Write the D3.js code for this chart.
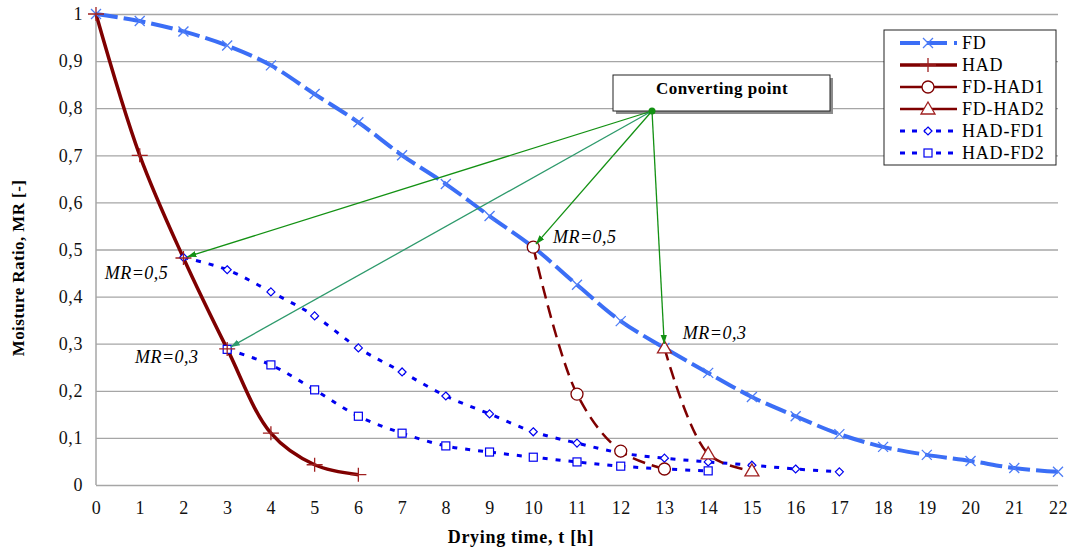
<!DOCTYPE html>
<html>
<head>
<meta charset="utf-8">
<script src="https://cdn.jsdelivr.net/npm/d3@7.9.0/dist/d3.min.js"></script>
<style>
  body { margin: 0; background: #fff; }
  svg text { font-family: "Liberation Serif", "Times New Roman", serif !important; }
</style>
</head>
<body>
<svg id="chart" width="1073" height="552"></svg>
<script>
// values
const fdTime = d3.range(0, 23);
const fdMR = [1, 0.985, 0.963, 0.933, 0.891, 0.830, 0.770, 0.700, 0.639, 0.571, 0.505,
  0.425, 0.348, 0.291, 0.238, 0.187, 0.146, 0.108, 0.081, 0.064, 0.051, 0.036, 0.028];
const hadTime = [0, 1, 2, 3, 4, 5, 6];
const hadMR = [1, 0.70, 0.482, 0.289, 0.110, 0.043, 0.022];
const fdHad1Time = [10, 11, 12, 13];
const fdHad1MR = [0.505, 0.193, 0.072, 0.034];
const fdHad2Time = [13, 14, 15];
const fdHad2MR = [0.291, 0.066, 0.030];
const hadFd1Time = d3.range(2, 18);
const hadFd1MR = [0.483, 0.457, 0.410, 0.359, 0.291, 0.240, 0.189, 0.151, 0.113, 0.089,
  0.068, 0.057, 0.049, 0.042, 0.034, 0.028];
const hadFd2Time = d3.range(3, 15);
const hadFd2MR = [0.288, 0.255, 0.202, 0.146, 0.110, 0.083, 0.070, 0.059, 0.049, 0.040, 0.034, 0.030];

const xTicks = d3.range(0, 23);
const yTicks = d3.range(0, 11).map(d => d / 10);

// converting point arrows go to these [t, MR] points
const convertTargets = [[2, 0.482, "#139113"], [3, 0.289, "#2e9a6c"], [10, 0.505, "#139113"], [13, 0.291, "#139113"]];
const notes = [
  { t: 0.2, mr: 0.437, text: "MR=0,5" },
  { t: 0.89, mr: 0.259, text: "MR=0,3" },
  { t: 10.45, mr: 0.514, text: "MR=0,5" },
  { t: 13.42, mr: 0.31, text: "MR=0,3" }
];

const series = [
  { name: "FD", t: fdTime, v: fdMR, color: "#3b6ef6", width: 4, dash: "22,6", marker: "x" },
  { name: "HAD", t: hadTime, v: hadMR, color: "#7f0000", width: 3.5, dash: null, marker: "plus" },
  { name: "FD-HAD1", t: fdHad1Time, v: fdHad1MR, color: "#7f0000", width: 2.5, dash: "13,7", marker: "circle" },
  { name: "FD-HAD2", t: fdHad2Time, v: fdHad2MR, color: "#7f0000", width: 2.5, dash: "13,7", marker: "triangle" },
  { name: "HAD-FD1", t: hadFd1Time, v: hadFd1MR, color: "#0000f0", width: 3, dash: "5,8", marker: "diamond" },
  { name: "HAD-FD2", t: hadFd2Time, v: hadFd2MR, color: "#0000f0", width: 3, dash: "5,8", marker: "square" }
];

const svg = d3.select("#chart");
const mLeft = 96, mRight = 1058, mTop = 14, mBottom = 485;
const x = d3.scaleLinear().domain([0, 22]).range([mLeft, mRight]);
const y = d3.scaleLinear().domain([0, 1]).range([mBottom, mTop]);

// horizontal grid
svg.append("g")
  .attr("transform", `translate(${mLeft},0)`)
  .call(d3.axisLeft(y).tickValues(yTicks).tickSize(-(mRight - mLeft)).tickFormat(d => d3.format(".1~f")(d).replace(".", ",")))
  .call(g => g.select(".domain").remove())
  .call(g => g.selectAll("line").attr("stroke", "#a6a6a6").attr("stroke-width", 1.3))
  .call(g => g.selectAll("text").attr("x", -13).attr("font-size", 18).attr("letter-spacing", 0.6).attr("fill", "#111"));

svg.append("line").attr("x1", mLeft).attr("x2", mLeft).attr("y1", mTop).attr("y2", mBottom)
  .attr("stroke", "#a6a6a6").attr("stroke-width", 1.5);

svg.append("g")
  .attr("transform", `translate(0,${mBottom})`)
  .call(d3.axisBottom(x).tickValues(xTicks).tickSize(0).tickFormat(d3.format("d")))
  .call(g => g.select(".domain").remove())
  .call(g => g.selectAll("text").attr("y", 16).attr("font-size", 18).attr("letter-spacing", 0.6).attr("fill", "#111"));

svg.append("text").attr("x", 521).attr("y", 543).attr("text-anchor", "middle")
  .attr("font-weight", "bold").attr("font-size", 18).attr("letter-spacing", 0.7).text("Drying time, t [h]");
svg.append("text").attr("transform", "translate(24,268) rotate(-90)").attr("text-anchor", "middle")
  .attr("font-weight", "bold").attr("font-size", 17).attr("letter-spacing", 0.4).text("Moisture Ratio, MR [-]");

const line = d3.line().x(d => x(d[0])).y(d => y(d[1])).curve(d3.curveCatmullRom.alpha(0.5));

function drawMarker(g, kind, cx, cy, color) {
  if (kind === "x") {
    g.append("path").attr("d", `M${cx - 5},${cy - 5}L${cx + 5},${cy + 5}M${cx - 5},${cy + 5}L${cx + 5},${cy - 5}`)
      .attr("stroke", "#4d7cf6").attr("stroke-width", 1.3).attr("fill", "none");
  } else if (kind === "plus") {
    g.append("path").attr("d", `M${cx - 8},${cy}L${cx + 8},${cy}M${cx},${cy - 7}L${cx},${cy + 7}`)
      .attr("stroke", "#a02020").attr("stroke-width", 1.3).attr("fill", "none");
  } else if (kind === "circle") {
    g.append("circle").attr("cx", cx).attr("cy", cy).attr("r", 6)
      .attr("stroke", color).attr("stroke-width", 1.3).attr("fill", "#fff");
  } else if (kind === "triangle") {
    g.append("path").attr("d", `M${cx},${cy - 7}L${cx + 7},${cy + 5}L${cx - 7},${cy + 5}Z`)
      .attr("stroke", "#a02020").attr("stroke-width", 1.3).attr("fill", "#fff");
  } else if (kind === "diamond") {
    g.append("path").attr("d", `M${cx},${cy - 4}L${cx + 4},${cy}L${cx},${cy + 4}L${cx - 4},${cy}Z`)
      .attr("stroke", color).attr("stroke-width", 1.2).attr("fill", "#fff");
  } else if (kind === "square") {
    g.append("rect").attr("x", cx - 4).attr("y", cy - 4).attr("width", 8).attr("height", 8)
      .attr("stroke", color).attr("stroke-width", 1.2).attr("fill", "#fff");
  }
}

// draw lines in an order close to the reference (blue dotted under, FD, then red)
const order = ["HAD-FD1", "HAD-FD2", "FD", "HAD", "FD-HAD1", "FD-HAD2"];
order.forEach(name => {
  const s = series.find(d => d.name === name);
  const pts = s.t.map((t, i) => [t, s.v[i]]);
  svg.append("path").datum(pts).attr("d", line)
    .attr("fill", "none").attr("stroke", s.color).attr("stroke-width", s.width)
    .attr("stroke-dasharray", s.dash);
});
order.forEach(name => {
  const s = series.find(d => d.name === name);
  const g = svg.append("g");
  s.t.forEach((t, i) => drawMarker(g, s.marker, x(t), y(s.v[i]), s.color));
});

// converting point box with arrows
const defs = svg.append("defs");
convertTargets.forEach((c, i) => {
  defs.append("marker").attr("id", "arr" + i).attr("viewBox", "0 0 10 10").attr("refX", 10).attr("refY", 5)
    .attr("markerWidth", 7).attr("markerHeight", 7).attr("orient", "auto")
    .append("path").attr("d", "M0,1.5L10,5L0,8.5Z").attr("fill", c[2]);
});
svg.append("rect").attr("x", 616).attr("y", 78).attr("width", 217).attr("height", 36).attr("fill", "#8c8c8c");
svg.append("rect").attr("x", 613).attr("y", 75).attr("width", 217).attr("height", 36)
  .attr("fill", "#fff").attr("stroke", "#222").attr("stroke-width", 1);
svg.append("text").attr("x", 722).attr("y", 94).attr("text-anchor", "middle").attr("font-weight", "bold")
  .attr("font-size", 17).attr("letter-spacing", 0.5).text("Converting point");
const cpX = 652, cpY = 111;
convertTargets.forEach((c, i) => {
  const tx = x(c[0]), ty = y(c[1]);
  const dx = tx - cpX, dy = ty - cpY, len = Math.hypot(dx, dy);
  svg.append("line").attr("x1", cpX).attr("y1", cpY)
    .attr("x2", tx - dx / len * 4).attr("y2", ty - dy / len * 4)
    .attr("stroke", c[2]).attr("stroke-width", 1.3).attr("marker-end", `url(#arr${i})`);
});
svg.append("circle").attr("cx", cpX).attr("cy", cpY).attr("r", 3.5).attr("fill", "#139113");

notes.forEach(n => {
  svg.append("text").attr("x", x(n.t)).attr("y", y(n.mr)).attr("font-style", "italic")
    .attr("font-size", 18).attr("letter-spacing", 0.5).text(n.text);
});

// legend
const lg = svg.append("g");
lg.append("rect").attr("x", 884).attr("y", 30).attr("width", 172).attr("height", 135)
  .attr("fill", "#fff").attr("stroke", "#222").attr("stroke-width", 1);
series.forEach((s, i) => {
  const ly = 43 + i * 22;
  lg.append("line").attr("x1", 900).attr("x2", 957).attr("y1", ly).attr("y2", ly)
    .attr("stroke", s.color).attr("stroke-width", s.width)
    .attr("stroke-dasharray", s.name === "FD" ? "20,7" : (s.width === 3 && s.dash ? "5,7" : null));
  drawMarker(lg, s.marker, 928, ly, s.color);
  lg.append("text").attr("x", 962).attr("y", ly + 6).attr("font-size", 18).attr("letter-spacing", 0.8).text(s.name);
});
</script>
</body>
</html>
